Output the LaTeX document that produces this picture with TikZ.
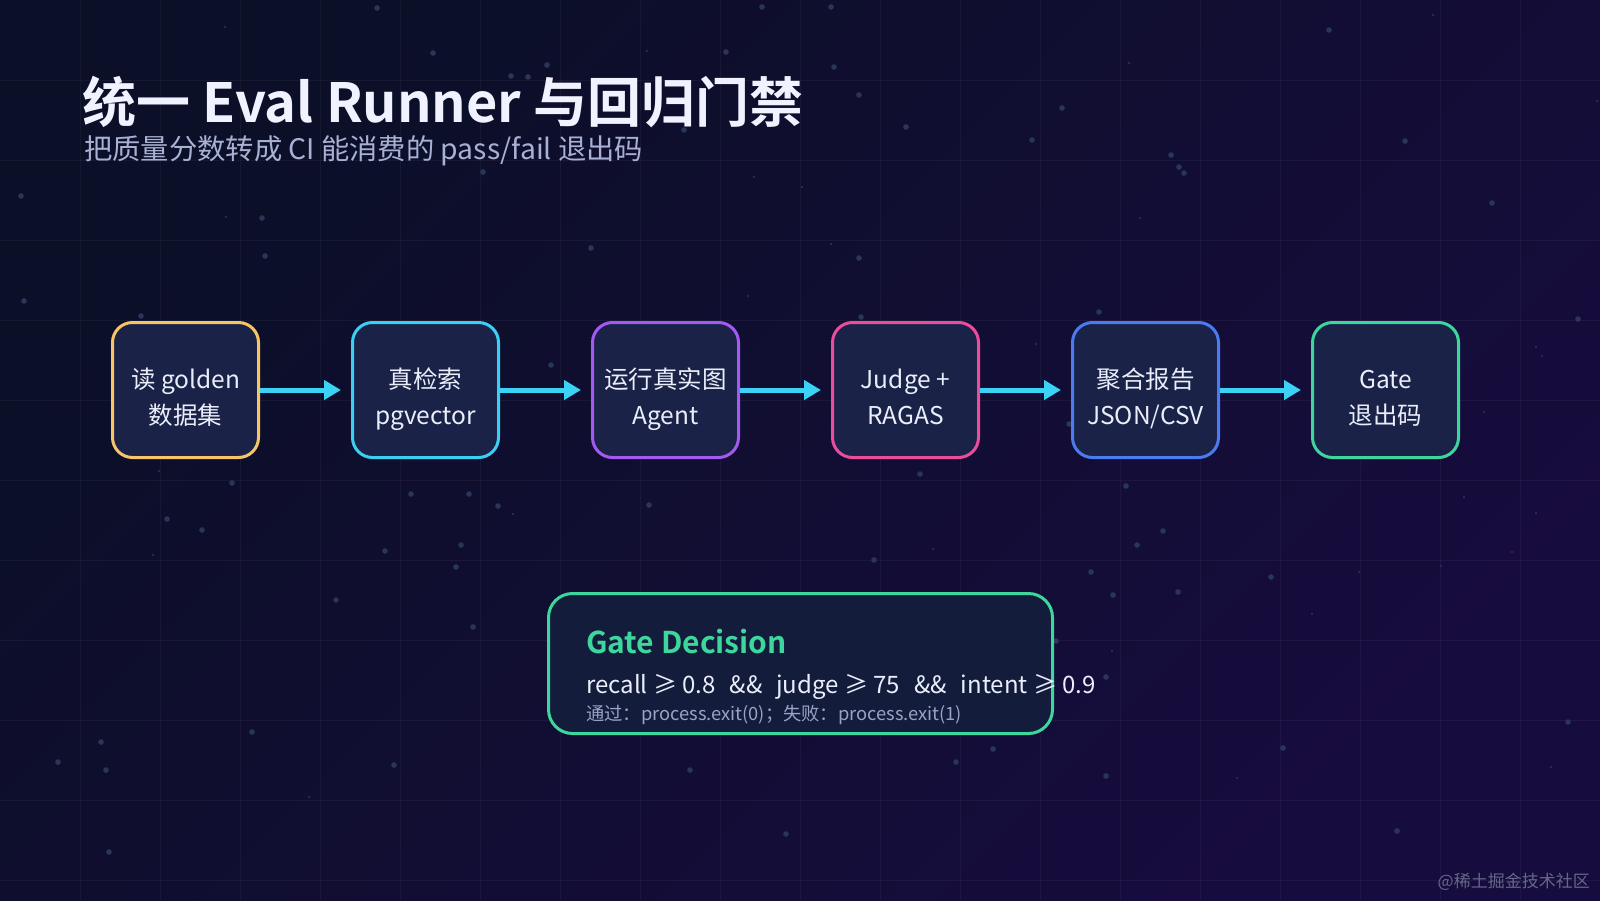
\documentclass[tikz,border=0pt]{standalone}
\usepackage{fontspec}
\setmainfont{Noto Sans CJK SC}[BoldFont={Noto Sans CJK SC Bold}]
\usetikzlibrary{arrows.meta,positioning}
\definecolor{bgtop}{HTML}{0B0F27}
\definecolor{bgbot}{HTML}{170C3E}
\definecolor{boxfill}{HTML}{1A2247}
\definecolor{gatefill}{HTML}{131C3B}
\definecolor{boxtext}{HTML}{EAEEFA}
\definecolor{titletext}{HTML}{F0F3FF}
\definecolor{subtext}{HTML}{A8B1D4}
\definecolor{notetext}{HTML}{9AA3C6}
\definecolor{stardot}{HTML}{2A3659}
\definecolor{arrowcyan}{HTML}{3AD3F6}
\definecolor{cYellow}{HTML}{F8C468}
\definecolor{cCyan}{HTML}{3CCFF4}
\definecolor{cPurple}{HTML}{A45AF2}
\definecolor{cPink}{HTML}{EC4C9C}
\definecolor{cBlue}{HTML}{4B7BF0}
\definecolor{cGreen}{HTML}{3DD69C}
\definecolor{markgray}{HTML}{646889}

\begin{document}
\begin{tikzpicture}[x=1pt, y=-1pt,
    stepbox/.style={draw, line width=3pt, rounded corners=20pt, fill=boxfill, text=boxtext, align=center, minimum width=146pt, minimum height=135pt, inner sep=0pt, text height=70pt, text depth=2pt, font=\fontsize{24.5}{36}\selectfont},
    flow/.style={-{Triangle[length=17pt,width=19pt]}, line width=5pt, arrowcyan, shorten >=10pt},
    gridline/.style={line width=1pt, white, opacity=0.045},
    star/.style={fill=stardot}
  ]
    % background, grid and stars
    \useasboundingbox (0,0) rectangle (1600,900);
    \shade[top color=bgtop, bottom color=bgbot, shading angle=45] (0,0) rectangle (1600,900);
    \foreach \gx in {80,160,...,1560} \draw[gridline] (\gx,0) -- (\gx,900);
    \foreach \gy in {80,160,...,880} \draw[gridline] (0,\gy) -- (1600,\gy);
    \foreach \sx/\sy in {377/8, 762/7, 433/53, 726/52, 547/65, 511/76, 528/77, 684/130, 483/172, 21/196, 262/218, 591/248, 265/256, 24/301, 141/316, 551/365,
        831/7, 1329/30, 834/67, 859/95, 1062/108, 906/127, 1032/140, 1405/141, 1171/155, 1179/167, 1184/173, 1492/203, 859/258, 861/317, 1099/312, 1578/319, 1069/424,
        232/483, 167/519, 202/530, 411/494, 469/494, 498/506, 649/505, 385/551, 461/545, 456/567, 336/600, 473/627, 252/732, 101/742, 58/762, 106/770, 394/765, 690/770, 786/834, 109/852,
        920/474, 1126/486, 1163/531, 1137/545, 874/560, 1091/572, 1271/577, 1113/595, 1178/592, 1056/641, 1106/677, 1568/722, 993/749, 1283/748, 956/762, 1106/776, 1397/831}
      \fill[star] (\sx,\sy) circle (2.8pt);
    \foreach \sx/\sy in {225/27, 647/51, 754/177, 226/217, 748/296, 1433/15, 1129/63, 1597/101, 802/187, 1140/218, 831/244, 1036/344, 1536/347, 1542/356, 1484/412,
        159/471, 153/555, 513/514, 309/797, 1464/497, 1536/513, 933/549, 1512/552, 1359/572, 1441/566, 1312/614, 1112/651, 1237/778, 1551/767}
      \fill[star] (\sx,\sy) circle (1.2pt);

    % heading
    \node[anchor=base west, inner sep=0pt, text=titletext, font=\fontsize{54}{60}\selectfont\bfseries] (title) at (82,122) {统一 Eval Runner 与回归门禁};
    \node[anchor=base west, inner sep=0pt, text=subtext, font=\fontsize{28.3}{32}\selectfont] (subtitle) at (84,159) {把质量分数转成 CI 能消费的 pass/fail 退出码};

    % pipeline
    \node[stepbox, draw=cYellow] (read) at (185.5,390) {读 golden\\数据集};
    \node[stepbox, draw=cCyan, right=91pt of read] (search) {真检索\\pgvector};
    \node[stepbox, draw=cPurple, right=91pt of search] (agent) {运行真实图\\Agent};
    \node[stepbox, draw=cPink, right=91pt of agent] (judge) {Judge +\\RAGAS};
    \node[stepbox, draw=cBlue, right=91pt of judge] (report) {聚合报告\\JSON/CSV};
    \node[stepbox, draw=cGreen, right=91pt of report] (gate) {Gate\\退出码};
    \draw[flow] (read) -- (search);
    \draw[flow] (search) -- (agent);
    \draw[flow] (agent) -- (judge);
    \draw[flow] (judge) -- (report);
    \draw[flow] (report) -- (gate);

    % decision card
    \node[draw=cGreen, line width=3pt, rounded corners=24pt, fill=gatefill, minimum width=504pt, minimum height=140pt, inner sep=0pt] (decision) at (800.5,663.5) {};
    \node[anchor=base west, inner sep=0pt, text=cGreen, font=\fontsize{30}{34}\selectfont\bfseries] (dtitle) at (586,653) {Gate Decision};
    \node[anchor=base west, inner sep=0pt, text=boxtext, font=\fontsize{24}{28}\selectfont] (drule) at (586,693) {recall ≥ 0.8\hspace{14pt}\&\&\hspace{14pt}judge ≥ 75\hspace{14pt}\&\&\hspace{14pt}intent ≥ 0.9};
    \node[anchor=base west, inner sep=0pt, text=notetext, font=\fontsize{18.3}{20}\selectfont] (dnote) at (586,720) {通过：process.exit(0)；失败：process.exit(1)};

    \node[anchor=base east, inner sep=0pt, text=markgray, font=\fontsize{17}{20}\selectfont] (mark) at (1590,887) {@稀土掘金技术社区};
  \end{tikzpicture}
\end{document}
